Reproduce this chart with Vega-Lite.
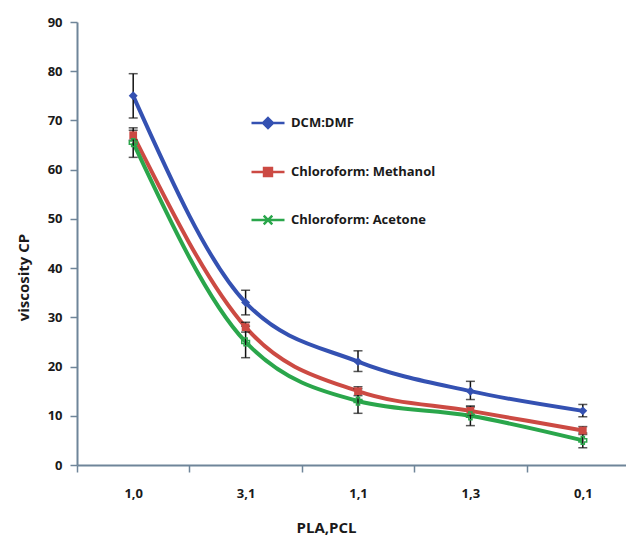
{
  "$schema": "https://vega.github.io/schema/vega-lite/v6.json",
  "autosize": {"type": "none"},
  "padding": {"left": 77, "top": 22, "right": 0, "bottom": 72},
  "width": 549,
  "height": 443,
  "background": "white",
  "config": {
    "view": {"stroke": null},
    "font": "Open Sans",
    "axis": {
      "labelFont": "Open Sans", "labelFontWeight": "bold", "labelFontSize": 13, "labelColor": "#1a1a1a",
      "titleFont": "Open Sans", "titleFontWeight": "bold", "titleFontSize": 15, "titleColor": "#1a1a1a",
      "domainColor": "#6f8599", "domainWidth": 2, "tickColor": "#6f8599", "tickWidth": 1.5, "tickSize": 7, "grid": false
    }
  },
  "data": {"values": [
    {"ratio": "1,0", "solvent": "DCM:DMF", "viscosity": 75, "lo": 70.5, "hi": 79.5},
    {"ratio": "3,1", "solvent": "DCM:DMF", "viscosity": 33, "lo": 30.5, "hi": 35.5},
    {"ratio": "1,1", "solvent": "DCM:DMF", "viscosity": 21, "lo": 19, "hi": 23.2},
    {"ratio": "1,3", "solvent": "DCM:DMF", "viscosity": 15, "lo": 13.3, "hi": 17},
    {"ratio": "0,1", "solvent": "DCM:DMF", "viscosity": 11, "lo": 9.8, "hi": 12.3},
    {"ratio": "1,0", "solvent": "Chloroform: Methanol", "viscosity": 67, "lo": 66, "hi": 68},
    {"ratio": "3,1", "solvent": "Chloroform: Methanol", "viscosity": 28, "lo": 27, "hi": 29},
    {"ratio": "1,1", "solvent": "Chloroform: Methanol", "viscosity": 15, "lo": 14.1, "hi": 15.9},
    {"ratio": "1,3", "solvent": "Chloroform: Methanol", "viscosity": 11, "lo": 10.2, "hi": 11.8},
    {"ratio": "0,1", "solvent": "Chloroform: Methanol", "viscosity": 7, "lo": 6.2, "hi": 7.8},
    {"ratio": "1,0", "solvent": "Chloroform: Acetone", "viscosity": 65.5, "lo": 62.5, "hi": 68.5},
    {"ratio": "3,1", "solvent": "Chloroform: Acetone", "viscosity": 25, "lo": 21.8, "hi": 28.2},
    {"ratio": "1,1", "solvent": "Chloroform: Acetone", "viscosity": 13, "lo": 10.5, "hi": 15.5},
    {"ratio": "1,3", "solvent": "Chloroform: Acetone", "viscosity": 10, "lo": 8, "hi": 12},
    {"ratio": "0,1", "solvent": "Chloroform: Acetone", "viscosity": 5, "lo": 3.5, "hi": 6.5}
  ]},
  "encoding": {
    "x": {
      "field": "ratio", "type": "ordinal", "sort": null,
      "scale": {"type": "band", "domain": ["1,0", "3,1", "1,1", "1,3", "0,1"], "range": [0, 562], "paddingInner": 0, "paddingOuter": 0},
      "axis": {"title": "PLA,PCL", "labelAngle": 0, "tickBand": "extent", "labelPadding": 15, "titlePadding": 20, "titleX": 249}
    },
    "color": {
      "field": "solvent", "type": "nominal",
      "scale": {"domain": ["DCM:DMF", "Chloroform: Methanol", "Chloroform: Acetone"], "range": ["#3451b2", "#cc4a43", "#2aa64b"]},
      "legend": {
        "orient": "none", "legendX": 173, "legendY": 83, "title": null, "padding": 0,
        "symbolSize": 1089, "rowPadding": 21, "labelOffset": 5,
        "labelFont": "Open Sans", "labelFontWeight": "bold", "labelFontSize": 13, "labelColor": "#1a1a1a",
        "encode": {"symbols": {"update": {
          "shape": {"signal": "datum.value == 'DCM:DMF' ? 'M-1,0H1M0,-0.3L0.3,0L0,0.3L-0.3,0Z' : datum.value == 'Chloroform: Methanol' ? 'M-1,0H1M-0.24,-0.24H0.24V0.24H-0.24Z' : 'M-1,0H1M-0.26,-0.26L0.26,0.26M-0.26,0.26L0.26,-0.26'"},
          "fill": {"scale": "color", "field": "value"},
          "stroke": {"scale": "color", "field": "value"},
          "strokeWidth": {"value": 2.5},
          "opacity": {"value": 1}
        }}}
      }
    }
  },
  "layer": [
    {
      "mark": {"type": "line", "interpolate": "monotone", "strokeWidth": 4},
      "encoding": {
        "y": {"field": "viscosity", "type": "quantitative",
          "scale": {"domain": [0, 90]},
          "title": "viscosity CP",
          "axis": {"values": [0, 10, 20, 30, 40, 50, 60, 70, 80, 90], "labelPadding": 8, "titlePadding": 16, "titleY": 255}}
      }
    },
    {
      "mark": {"type": "errorbar", "ticks": {"size": 9, "thickness": 1.5, "color": "#111111"}, "rule": {"strokeWidth": 1.5, "color": "#111111"}},
      "encoding": {
        "y": {"field": "lo", "type": "quantitative", "title": "viscosity CP"},
        "y2": {"field": "hi"},
        "color": {"value": "#111111"},
        "detail": {"field": "solvent"}
      }
    },
    {
      "transform": [{"filter": "datum.solvent == 'DCM:DMF'"}],
      "mark": {"type": "point", "filled": true, "opacity": 1, "shape": "diamond", "size": 80},
      "encoding": {"y": {"field": "viscosity", "type": "quantitative", "title": "viscosity CP"}}
    },
    {
      "transform": [{"filter": "datum.solvent == 'Chloroform: Methanol'"}],
      "mark": {"type": "point", "filled": true, "opacity": 1, "shape": "square", "size": 60},
      "encoding": {"y": {"field": "viscosity", "type": "quantitative", "title": "viscosity CP"}}
    },
    {
      "transform": [{"filter": "datum.solvent == 'Chloroform: Acetone'"}],
      "mark": {"type": "point", "filled": false, "opacity": 1, "shape": "cross", "size": 60, "strokeWidth": 1.5},
      "encoding": {"y": {"field": "viscosity", "type": "quantitative", "title": "viscosity CP"}}
    }
  ]
}
